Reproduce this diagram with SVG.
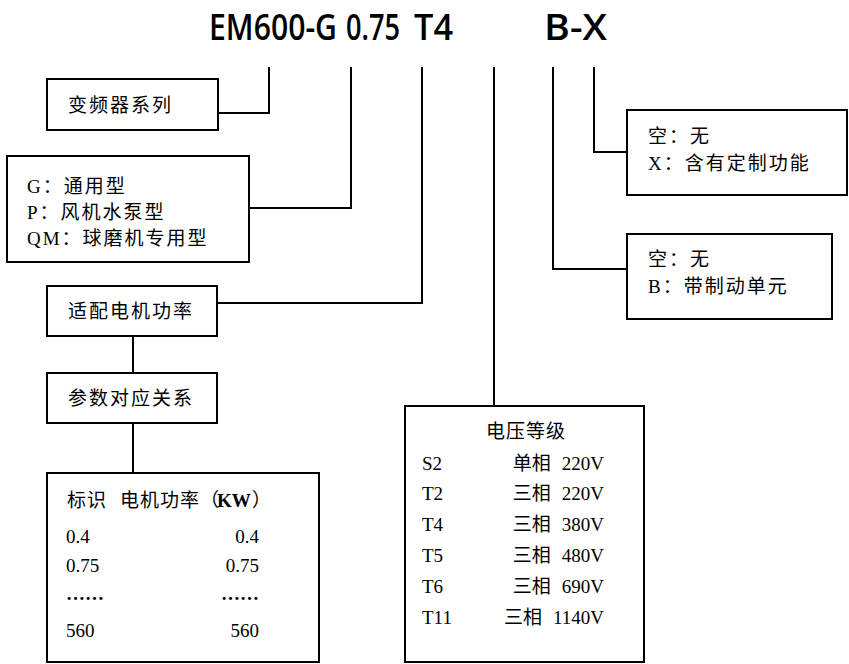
<svg xmlns="http://www.w3.org/2000/svg" width="849" height="664" viewBox="0 0 849 664">
<style>
.box{fill:#fff;stroke:#000;stroke-width:2}
.ln{fill:none;stroke:#000;stroke-width:2}
.t{font-family:"Liberation Serif","Noto Sans CJK SC",serif;font-size:19px;fill:#000}
.c{letter-spacing:2px}
.title{font-family:"Open Sans","Liberation Sans",sans-serif;font-size:36px;font-weight:600;fill:#000}
</style>
<rect width="849" height="664" fill="#fff"/>
<g id="title">
<text class="title" y="40"><tspan x="209" textLength="128" lengthAdjust="spacingAndGlyphs">EM600-G</tspan><tspan x="346" textLength="54" lengthAdjust="spacingAndGlyphs">0.75</tspan><tspan x="414" textLength="39" lengthAdjust="spacingAndGlyphs">T4</tspan><tspan x="544" textLength="63" lengthAdjust="spacingAndGlyphs">B-X</tspan></text>
</g>
<g id="connectors">
<polyline class="ln" points="269,67 269,113 218,113"/>
<polyline class="ln" points="351,67 351,208 249,208"/>
<polyline class="ln" points="422,67 422,303 217,303"/>
<polyline class="ln" points="494,67 494,406"/>
<polyline class="ln" points="553,67 553,269 627,269"/>
<polyline class="ln" points="594,67 594,152 627,152"/>
<line class="ln" x1="133" y1="336" x2="133" y2="373"/>
<line class="ln" x1="133" y1="423" x2="133" y2="473"/>
</g>
<g id="series">
<rect class="box" x="47" y="79" width="171" height="51"/>
<text class="t c" x="68" y="112">变频器系列</text>
</g>
<g id="type">
<rect class="box" x="7" y="156" width="242" height="106"/>
<text class="t c" x="27" y="193">G：通用型</text>
<text class="t c" x="27" y="219">P：风机水泵型</text>
<text class="t c" x="27" y="245">QM：球磨机专用型</text>
</g>
<g id="power">
<rect class="box" x="47" y="286" width="170" height="50"/>
<text class="t c" x="68" y="318">适配电机功率</text>
</g>
<g id="param">
<rect class="box" x="47" y="373" width="170" height="50"/>
<text class="t c" x="68" y="405">参数对应关系</text>
</g>
<g id="table">
<rect class="box" x="47" y="473" width="272" height="189"/>
<text class="t" x="67" y="507" style="letter-spacing:1px">标识</text>
<text class="t" x="120" y="507" style="letter-spacing:1px">电机功率（</text>
<text class="t" x="217" y="507" font-weight="bold">KW</text>
<text class="t" x="252" y="507">）</text>
<text class="t" x="66" y="543">0.4</text>
<text class="t" x="259" y="543" text-anchor="end">0.4</text>
<text class="t" x="66" y="572">0.75</text>
<text class="t" x="259" y="572" text-anchor="end">0.75</text>
<text class="t" x="66" y="600" font-weight="bold">……</text>
<text class="t" x="259" y="600" text-anchor="end" font-weight="bold">……</text>
<text class="t" x="66" y="637">560</text>
<text class="t" x="259" y="637" text-anchor="end">560</text>
</g>
<g id="voltage">
<rect class="box" x="405" y="406" width="239" height="256"/>
<text class="t" x="526" y="438" text-anchor="middle" style="letter-spacing:1px">电压等级</text>
<text class="t" x="422" y="470">S2</text>
<text class="t" x="604" y="470" text-anchor="end">单相<tspan dx="11">220V</tspan></text>
<text class="t" x="422" y="500">T2</text>
<text class="t" x="604" y="500" text-anchor="end">三相<tspan dx="11">220V</tspan></text>
<text class="t" x="422" y="531">T4</text>
<text class="t" x="604" y="531" text-anchor="end">三相<tspan dx="11">380V</tspan></text>
<text class="t" x="422" y="562">T5</text>
<text class="t" x="604" y="562" text-anchor="end">三相<tspan dx="11">480V</tspan></text>
<text class="t" x="422" y="593">T6</text>
<text class="t" x="604" y="593" text-anchor="end">三相<tspan dx="11">690V</tspan></text>
<text class="t" x="422" y="624">T11</text>
<text class="t" x="604" y="624" text-anchor="end">三相<tspan dx="11">1140V</tspan></text>
</g>
<g id="custom">
<rect class="box" x="627" y="110" width="220" height="85"/>
<text class="t c" x="648" y="143">空：无</text>
<text class="t c" x="648" y="170">X：含有定制功能</text>
</g>
<g id="brake">
<rect class="box" x="627" y="234" width="205" height="85"/>
<text class="t c" x="648" y="266">空：无</text>
<text class="t c" x="648" y="293">B：带制动单元</text>
</g>
</svg>
